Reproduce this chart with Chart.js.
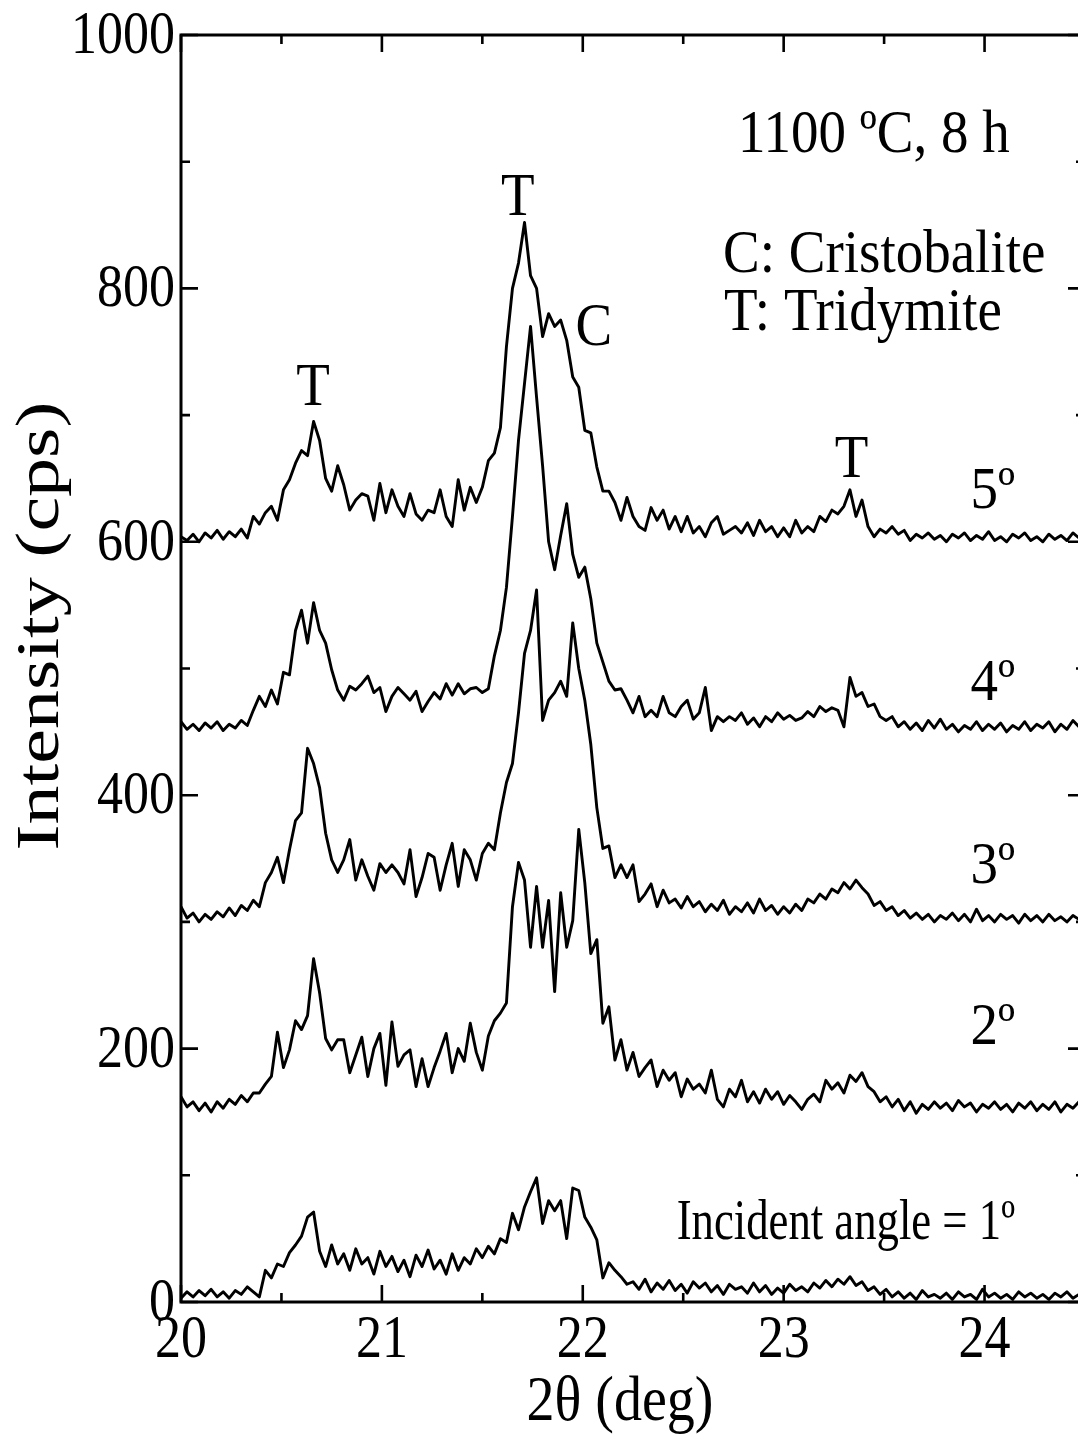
<!DOCTYPE html>
<html>
<head>
<meta charset="utf-8">
<script src="https://cdn.jsdelivr.net/npm/chart.js@4.4.1/dist/chart.umd.min.js"></script>
<style>
  html, body { margin: 0; padding: 0; background: #fff; overflow: hidden; }
  canvas { display: block; }
</style>
</head>
<body>
<canvas id="xrdChart" width="1090" height="1443"></canvas>
<script>
// XRD patterns, 1100 C / 8 h, grazing incidence at 1-5 deg
// scans are sampled on a constant 2theta step
const THETA_START = 20.0;
const THETA_STEP = 0.03;

// intensities (cps), 150 points each
const angle1 = [
  3, 8, 4, 9, 5, 10, 4, 8, 3, 9,
  6, 12, 8, 4, 25, 19, 30, 28, 39, 45,
  52, 67, 71, 40, 28, 45, 30, 38, 25, 42,
  30, 35, 22, 40, 28, 36, 24, 33, 20, 37,
  28, 41, 26, 33, 22, 38, 25, 35, 30, 42,
  35, 44, 38, 50, 47, 70, 57, 75, 87, 98,
  62, 80, 72, 80, 50, 90, 88, 67, 59, 49,
  19, 31, 25, 20, 14, 16, 10, 18, 8, 15,
  10, 17, 9, 14, 7, 16, 11, 15, 8, 13,
  6, 14, 10, 12, 7, 15, 8, 13, 6, 11,
  7, 14, 9, 12, 8, 15, 11, 17, 12, 18,
  14, 20, 13, 16, 9, 12, 6, 10, 4, 8,
  3, 7, 2, 9, 4, 6, 3, 7, 2, 8,
  4, 6, 2, 10, 4, 7, 3, 6, 2, 8,
  4, 7, 3, 6, 2, 7, 4, 8, 3, 6
];
const angle2 = [
  162, 154, 158, 151, 157, 150, 158, 153, 160, 156,
  163, 158, 165, 165, 172, 178, 213, 185, 199, 222,
  215, 226, 271, 244, 208, 199, 207, 207, 181, 195,
  209, 178, 200, 212, 171, 221, 186, 195, 199, 170,
  192, 170, 185, 198, 212, 181, 200, 190, 220, 197,
  183, 210, 222, 228, 236, 312, 347, 333, 280, 328,
  280, 317, 245, 323, 280, 301, 373, 331, 275, 286,
  220, 233, 191, 207, 183, 197, 178, 185, 191, 170,
  183, 175, 181, 162, 176, 168, 172, 165, 183, 160,
  154, 168, 162, 175, 158, 166, 157, 168, 160, 166,
  156, 163, 158, 152, 160, 164, 158, 175, 168, 173,
  165, 179, 174, 181, 170, 166, 158, 162, 154, 160,
  151, 158, 149, 156, 152, 158, 153, 157, 151, 159,
  154, 157, 150, 156, 153, 158, 152, 156, 150, 157,
  153, 158, 151, 156, 152, 158, 150, 156, 153, 158
];
const angle3 = [
  312, 303, 307, 300, 306, 302, 308, 304, 311, 305,
  313, 309, 317, 312, 331, 339, 351, 331, 357, 380,
  386, 437, 425, 406, 370, 349, 339, 349, 365, 333,
  349, 336, 325, 346, 339, 345, 339, 330, 357, 320,
  335, 354, 351, 325, 345, 362, 328, 357, 349, 333,
  354, 362, 357, 386, 410, 425, 465, 512, 530, 562,
  459, 475, 481, 490, 478, 536, 500, 475, 440, 390,
  358, 360, 335, 345, 335, 345, 316, 322, 330, 312,
  325, 315, 318, 311, 320, 312, 316, 308, 314, 309,
  317, 306, 312, 308, 315, 307, 318, 309, 313, 306,
  312, 307, 314, 309, 318, 315, 322, 318, 326, 323,
  331, 326, 333, 327, 322, 313, 316, 309, 312, 305,
  309, 303, 307, 302, 306, 300, 305, 302, 307, 301,
  306, 300, 310, 301, 305, 300, 306, 302, 305, 299,
  306, 301, 305, 300, 306, 301, 304, 300, 305, 302
];
const angle4 = [
  458, 452, 456, 451, 457, 453, 458, 451, 456, 453,
  459, 455, 467, 478, 470, 483, 472, 497, 495, 530,
  546, 520, 552, 530, 520, 499, 483, 475, 486, 483,
  488, 494, 481, 485, 466, 478, 485, 480, 475, 482,
  466, 474, 481, 476, 488, 479, 488, 480, 484, 485,
  481, 484, 510, 530, 564, 620, 680, 725, 770, 714,
  660, 600, 578, 605, 630, 590, 572, 580, 555, 520,
  505, 490, 483, 484, 475, 465, 478, 462, 467, 462,
  478, 465, 462, 470, 475, 460, 465, 485, 451, 462,
  458, 462, 459, 465, 456, 461, 454, 462, 458, 465,
  460, 463, 459, 461, 466, 462, 470, 466, 469, 467,
  454, 493, 478, 481, 470, 472, 462, 459, 462, 454,
  458, 452, 457, 451, 459, 453, 460, 452, 456, 450,
  455, 452, 458, 451, 456, 452, 457, 450, 455, 452,
  458, 451, 456, 453, 458, 450, 456, 452, 459, 454
];
const angle5 = [
  604, 601, 606, 600, 607, 603, 609, 602, 608, 604,
  610, 603, 620, 614, 623, 628, 617, 641, 649, 662,
  672, 668, 695, 680, 650, 640, 660, 645, 625, 633,
  638, 636, 617, 646, 623, 641, 628, 620, 638, 622,
  617, 625, 623, 641, 620, 612, 649, 625, 643, 631,
  643, 664, 670, 690, 754, 800, 820, 852, 810, 800,
  762, 780, 770, 775, 759, 730, 722, 688, 686, 659,
  640, 640, 631, 617, 635, 620, 612, 609, 627, 617,
  625, 610, 620, 608, 620, 607, 612, 604, 615, 620,
  606, 609, 612, 607, 615, 605, 617, 608, 612, 604,
  611, 604, 617, 607, 612, 608, 620, 616, 625, 622,
  628, 641, 620, 633, 612, 604, 610, 607, 612, 606,
  609, 601, 606, 603, 607, 602, 605, 600, 606, 603,
  607, 601, 605, 602, 608, 601, 604, 600, 606, 603,
  607, 601, 604, 600, 606, 602, 605, 601, 607, 603
];

// axis ticks
const xMajorTicks = [20, 21, 22, 23, 24];
const xMinorTicks = [20.5, 21.5, 22.5, 23.5];
const yMajorTicks = [0, 200, 400, 600, 800, 1000];
const yMinorTicks = [100, 300, 500, 700, 900];

// phase marks: label, 2theta, intensity where the letter sits
const peakLabels = ['T', 'T', 'C', 'T'];
const peakTheta = [20.657, 21.677, 22.055, 23.338];
const peakLevel = [708, 858, 755, 651];

// incident angle labels next to each scan
const angleLabels = ['Incident angle = 1\u00ba', '2\u00ba', '3\u00ba', '4\u00ba', '5\u00ba'];
const angleLabelLevel = [50, 204, 331, 475, 627];

const SERIF = '"Liberation Serif", "Times New Roman", serif';

function toPoints(values) {
  return values.map((v, i) => ({ x: +(THETA_START + i * THETA_STEP).toFixed(3), y: v }));
}

// text in the original figure is a bit taller than wide, so stretch it
function drawText(ctx, txt, x, y, size, align, sx, sy, rot) {
  ctx.save();
  ctx.font = size + 'px ' + SERIF;
  ctx.textAlign = align || 'left';
  ctx.textBaseline = 'alphabetic';
  ctx.fillStyle = '#000';
  ctx.translate(x, y);
  if (rot) ctx.rotate(rot);
  ctx.scale(sx || 1, sy || 1.12);
  ctx.fillText(txt, 0, 0);
  ctx.restore();
}

// frame, inward ticks and all the labels
const framePlugin = {
  id: 'frame',
  afterDraw(chart) {
    const { ctx, chartArea: a, scales } = chart;
    const xs = scales.x, ys = scales.y;
    ctx.save();
    ctx.strokeStyle = '#000';
    ctx.lineWidth = 3;
    ctx.strokeRect(a.left, a.top, a.right - a.left, a.bottom - a.top);

    ctx.lineWidth = 2.6;
    ctx.beginPath();
    const xTick = (v, len) => {
      const px = xs.getPixelForValue(v);
      ctx.moveTo(px, a.bottom); ctx.lineTo(px, a.bottom - len);
      ctx.moveTo(px, a.top); ctx.lineTo(px, a.top + len);
    };
    const yTick = (v, len) => {
      const py = ys.getPixelForValue(v);
      ctx.moveTo(a.left, py); ctx.lineTo(a.left + len, py);
      ctx.moveTo(a.right, py); ctx.lineTo(a.right - len, py);
    };
    xMajorTicks.forEach(v => xTick(v, 17));
    xMinorTicks.forEach(v => xTick(v, 9));
    yMajorTicks.forEach(v => yTick(v, 17));
    yMinorTicks.forEach(v => yTick(v, 9));
    ctx.stroke();
    ctx.restore();

    // tick labels
    xMajorTicks.forEach(v => {
      drawText(ctx, String(v), xs.getPixelForValue(v), a.bottom + 55, 52, 'center', 1, 1.18);
    });
    yMajorTicks.forEach(v => {
      drawText(ctx, String(v), a.left - 6, ys.getPixelForValue(v) + 18, 52, 'right', 1, 1.18);
    });

    // axis titles
    drawText(ctx, '2\u03b8 (deg)', 620, 1420, 56, 'center', 1, 1.12);
    drawText(ctx, 'Intensity (cps)', 58, 626, 62, 'center', 1.26, 1.0, -Math.PI / 2);

    // header / legend text
    drawText(ctx, '1100 \u00baC, 8 h', 738, 152, 55, 'left');
    drawText(ctx, 'C: Cristobalite', 723, 272, 55, 'left');
    drawText(ctx, 'T: Tridymite', 724, 330, 55, 'left');

    // phase marks over the peaks
    peakLabels.forEach((t, i) => {
      drawText(ctx, t, xs.getPixelForValue(peakTheta[i]), ys.getPixelForValue(peakLevel[i]), 55, 'center');
    });

    // incident angle labels, right aligned at the same column
    angleLabels.forEach((t, i) => {
      const size = i === 0 ? 52 : 55;
      const sx = i === 0 ? 0.86 : 1;
      const sy = i === 0 ? 1.1 : 1.08;
      drawText(ctx, t, 1015, ys.getPixelForValue(angleLabelLevel[i]), size, 'right', sx, sy);
    });
  }
};

const scans = [angle1, angle2, angle3, angle4, angle5];
const ctx = document.getElementById('xrdChart').getContext('2d');
new Chart(ctx, {
  type: 'line',
  data: {
    datasets: scans.map((vals, i) => ({
      label: (i + 1) + '\u00ba',
      data: toPoints(vals),
      borderColor: '#000',
      borderWidth: 2.9,
      borderJoinStyle: 'round',
      pointRadius: 0,
      tension: 0,
      fill: false
    }))
  },
  options: {
    responsive: false,
    devicePixelRatio: 1,
    animation: false,
    layout: { padding: { left: 181, top: 35, right: 5, bottom: 141 } },
    plugins: { legend: { display: false }, tooltip: { enabled: false } },
    scales: {
      x: { type: 'linear', min: 20, max: 24.5, display: false },
      y: { type: 'linear', min: 0, max: 1000, display: false }
    }
  },
  plugins: [framePlugin]
});
</script>
</body>
</html>
